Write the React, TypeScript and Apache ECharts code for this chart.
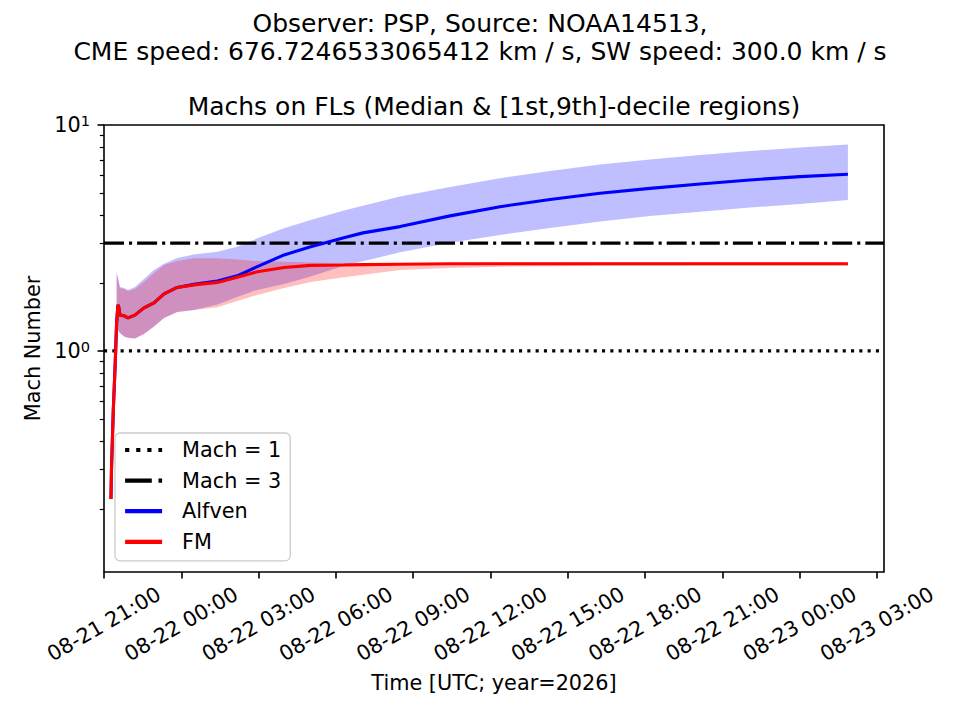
import * as echarts from "echarts";
import React, { useEffect, useRef } from "react";

const FONT = "DejaVu Sans";
const START = Date.UTC(2026, 7, 21, 21, 0);
const HOUR = 3600 * 1000;
const X_END_H = 30.27;

// tick positions (hours after 08-21 21:00 UTC) and log-axis ticks
const xTickHours = [0, 3, 6, 9, 12, 15, 18, 21, 24, 27, 30];
const yMajor = [1, 10];
const yMinor = [0.2, 0.3, 0.4, 0.5, 0.6, 0.7, 0.8, 0.9, 2, 3, 4, 5, 6, 7, 8, 9];

// median curves (hours after start)
const medHours = [0.27, 0.29, 0.36, 0.43, 0.49, 0.54, 0.58, 0.62, 0.78, 0.93, 1.2, 1.55, 1.94, 2.33, 2.84, 3.49, 4.4, 5.17, 5.95, 6.99, 8.02, 9.31, 10.05, 11.49, 13.43, 15.37, 17.31, 19.25, 21.19, 23.13, 25.07, 27.01, 28.87];
const alfvenMedian = [0.221, 0.297, 0.543, 0.85, 1.33, 1.6, 1.55, 1.44, 1.43, 1.4, 1.44, 1.55, 1.63, 1.79, 1.91, 1.97, 2.04, 2.15, 2.36, 2.66, 2.89, 3.17, 3.33, 3.55, 3.96, 4.35, 4.68, 4.99, 5.24, 5.48, 5.71, 5.91, 6.05];
const fmMedian = [0.221, 0.297, 0.543, 0.85, 1.33, 1.6, 1.55, 1.44, 1.43, 1.4, 1.44, 1.55, 1.63, 1.79, 1.91, 1.96, 2.01, 2.12, 2.24, 2.34, 2.39, 2.4, 2.41, 2.42, 2.43, 2.43, 2.43, 2.43, 2.43, 2.43, 2.43, 2.43, 2.43];

// 1st / 9th decile regions
const bandHours = [0.49, 0.53, 0.62, 0.78, 0.93, 1.2, 1.55, 1.94, 2.33, 2.84, 3.49, 4.4, 5.17, 5.95, 6.99, 8.02, 9.31, 11.49, 13.43, 15.37, 17.31, 19.25, 21.19, 23.13, 25.07, 27.01, 28.87];
const alfvenHi = [2.21, 2.15, 1.92, 1.9, 1.86, 1.92, 2.08, 2.28, 2.43, 2.58, 2.67, 2.75, 2.89, 3.15, 3.49, 3.8, 4.18, 4.82, 5.32, 5.81, 6.26, 6.69, 7.03, 7.36, 7.67, 7.95, 8.2];
const alfvenLo = [1.277, 1.239, 1.201, 1.157, 1.142, 1.136, 1.189, 1.281, 1.4, 1.488, 1.518, 1.606, 1.734, 1.862, 1.98, 2.132, 2.38, 2.73, 3.01, 3.26, 3.5, 3.74, 3.96, 4.13, 4.31, 4.47, 4.66];
const fmHi = [2.17, 2.1, 1.9, 1.88, 1.84, 1.88, 2.02, 2.21, 2.4, 2.5, 2.57, 2.57, 2.54, 2.5, 2.48, 2.46, 2.45, 2.45, 2.45, 2.46, 2.46, 2.46, 2.46, 2.46, 2.46, 2.46, 2.46];
const fmLo = [1.277, 1.239, 1.201, 1.157, 1.142, 1.136, 1.189, 1.281, 1.4, 1.488, 1.518, 1.56, 1.664, 1.769, 1.9, 2.02, 2.12, 2.28, 2.33, 2.36, 2.37, 2.38, 2.38, 2.39, 2.39, 2.39, 2.39];

const toMs = (h: number) => START + h * HOUR;
const pad2 = (n: number) => String(n).padStart(2, "0");

// fill_between as a polygon, placed with the axes' own scales
const bandRenderer = (lo: number[], hi: number[], color: string) => (_params: any, api: any) => {
    const pts: number[][] = [];
    bandHours.forEach((h, i) => pts.push(api.coord([toMs(h), hi[i]])));
    for (let i = bandHours.length - 1; i >= 0; i--) pts.push(api.coord([toMs(bandHours[i]), lo[i]]));
    return { type: "polygon", shape: { points: pts }, style: { fill: color } };
};

const text = { fontFamily: FONT, color: "#000", fontSize: 20.8 };

const MachChart: React.FC = () => {
    const chartRef = useRef<HTMLDivElement>(null);

    useEffect(() => {
        if (!chartRef.current) return;
        const chart = echarts.init(chartRef.current, undefined, { renderer: "svg" });

        const xTicks = xTickHours.map(toMs);

        chart.setOption({
            animation: false,
            backgroundColor: "#fff",
            textStyle: { fontFamily: FONT },
            title: [
                {
                    text: "Observer: PSP, Source: NOAA14513,\nCME speed: 676.7246533065412 km / s, SW speed: 300.0 km / s",
                    left: "center",
                    top: 9,
                    padding: 0,
                    textStyle: { fontFamily: FONT, fontSize: 25, fontWeight: "normal", color: "#000", lineHeight: 28 },
                },
                {
                    text: "Machs on FLs (Median & [1st,9th]-decile regions)",
                    left: 494,
                    top: 91,
                    padding: 0,
                    textAlign: "center",
                    textStyle: { fontFamily: FONT, fontSize: 25, fontWeight: "normal", color: "#000", lineHeight: 30 },
                },
            ],
            grid: { left: 104, top: 125, width: 780, height: 447, show: true, borderColor: "#000", borderWidth: 1.6 },
            legend: {
                data: [
                    { name: "Mach = 1", lineStyle: { width: 4.2, type: [4.2, 6.9] } },
                    { name: "Mach = 3", lineStyle: { width: 4.2, type: [26.7, 6.7, 4.2, 6.7] } },
                    { name: "Alfven", lineStyle: { width: 4.2 } },
                    { name: "FM", lineStyle: { width: 4.2 } },
                ],
                orient: "vertical",
                left: 115,
                top: 433,
                padding: [6, 9, 8, 8],
                itemWidth: 37,
                itemHeight: 14,
                itemGap: 8.6,
                backgroundColor: "rgba(255,255,255,0.8)",
                borderColor: "#cccccc",
                borderWidth: 1.3,
                borderRadius: 5,
                itemStyle: { opacity: 0 },
                textStyle: { ...text, lineHeight: 22, padding: [0, 0, 0, 15] },
            },
            xAxis: {
                type: "value",
                min: START,
                max: toMs(X_END_H),
                splitLine: { show: false },
                axisLine: { show: false },
                axisTick: { show: true, customValues: xTicks, length: 6.5, lineStyle: { color: "#000", width: 1.6 } },
                axisLabel: {
                    ...text,
                    customValues: xTicks,
                    interval: 0,
                    rotate: 30,
                    align: "center",
                    verticalAlign: "middle",
                    margin: 52,
                    formatter: (v: number) => {
                        const d = new Date(v);
                        return `${pad2(d.getUTCMonth() + 1)}-${pad2(d.getUTCDate())} ${pad2(d.getUTCHours())}:${pad2(d.getUTCMinutes())}`;
                    },
                },
                name: "Time [UTC; year=2026]",
                nameLocation: "middle",
                nameGap: 100,
                nameTextStyle: text,
            },
            yAxis: [
                {
                    type: "log",
                    logBase: 10,
                    min: 0.105,
                    max: 10,
                    splitLine: { show: false },
                    axisLine: { show: false },
                    axisTick: { show: true, customValues: yMajor, length: 6.5, lineStyle: { color: "#000", width: 1.6 } },
                    axisLabel: {
                        customValues: yMajor,
                        margin: 14,
                        formatter: (v: number) => `{b|10}{s|${Math.round(Math.log10(v))}}`,
                        rich: {
                            b: { ...text, lineHeight: 24 },
                            s: { fontFamily: FONT, color: "#000", fontSize: 14.6, lineHeight: 14.6, verticalAlign: "top" },
                        },
                    },
                    name: "Mach Number",
                    nameLocation: "middle",
                    nameGap: 60,
                    nameTextStyle: text,
                },
                {
                    type: "log",
                    logBase: 10,
                    min: 0.105,
                    max: 10,
                    position: "left",
                    splitLine: { show: false },
                    axisLine: { show: false },
                    axisLabel: { show: false },
                    axisTick: { show: true, customValues: yMinor, length: 4.2, lineStyle: { color: "#000", width: 1.2 } },
                },
            ],
            series: [
                {
                    type: "custom",
                    silent: true,
                    renderItem: bandRenderer(alfvenLo, alfvenHi, "rgba(0,0,255,0.25)"),
                    data: [[toMs(bandHours[0]), alfvenLo[0]]],
                },
                {
                    type: "custom",
                    silent: true,
                    renderItem: bandRenderer(fmLo, fmHi, "rgba(255,0,0,0.25)"),
                    data: [[toMs(bandHours[0]), fmLo[0]]],
                },
                {
                    name: "Mach = 1",
                    type: "line",
                    symbol: "none",
                    data: [[START, 1], [toMs(X_END_H), 1]],
                    lineStyle: { color: "#000", width: 3.1, type: [3.1, 5.2] },
                    itemStyle: { color: "#000" },
                },
                {
                    name: "Mach = 3",
                    type: "line",
                    symbol: "none",
                    data: [[START, 3], [toMs(X_END_H), 3]],
                    lineStyle: { color: "#000", width: 3.1, type: [20, 5, 3.1, 5] },
                    itemStyle: { color: "#000" },
                },
                {
                    name: "Alfven",
                    type: "line",
                    symbol: "none",
                    data: medHours.map((h, i) => [toMs(h), alfvenMedian[i]]),
                    lineStyle: { color: "#0000ff", width: 3.1 },
                    itemStyle: { color: "#0000ff" },
                },
                {
                    name: "FM",
                    type: "line",
                    symbol: "none",
                    data: medHours.map((h, i) => [toMs(h), fmMedian[i]]),
                    lineStyle: { color: "#ff0000", width: 3.1 },
                    itemStyle: { color: "#ff0000" },
                },
            ],
        });

        return () => { chart.dispose(); };
    }, []);

    return <div ref={chartRef} style={{ width: 960, height: 720 }} />;
};

export default function App() {
    return (
        <div style={{ position: "absolute", left: 0, top: 0, width: 960, height: 720, background: "#fff" }}>
            <MachChart />
        </div>
    );
}
